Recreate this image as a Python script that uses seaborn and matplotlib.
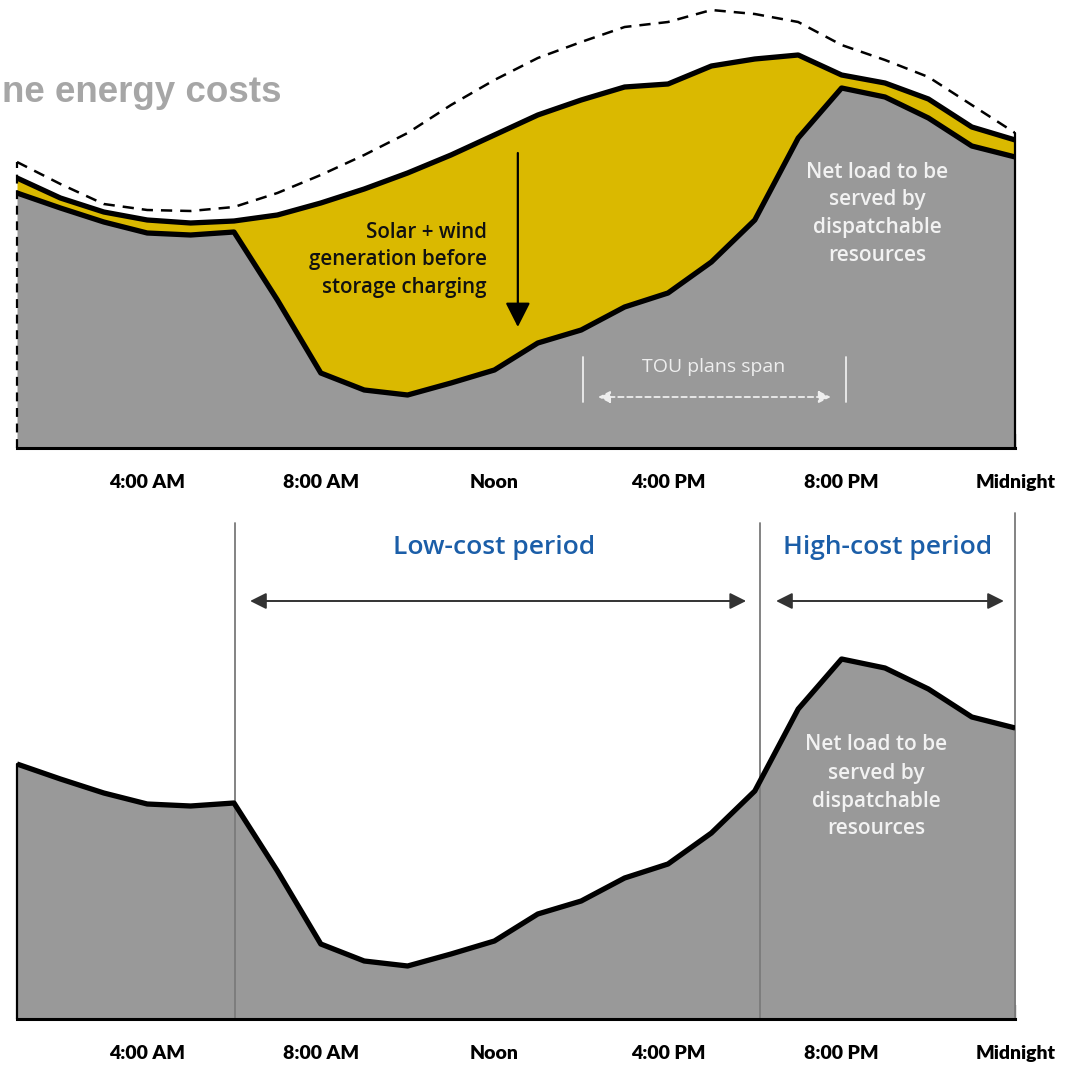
import matplotlib
matplotlib.use("Agg")
import matplotlib.pyplot as plt
import seaborn as sns
import pandas as pd

# Hourly system load (GW), 1 AM through midnight
hours = list(range(1, 25))
net_load = [25.5, 24.0, 22.6, 21.5, 21.3, 21.6, 14.8, 7.5, 5.8, 5.3, 6.5, 7.8,
            10.5, 11.8, 14.1, 15.5, 18.6, 22.8, 31.0, 36.0, 35.1, 33.0, 30.2, 29.1]
gross_load = [27.0, 25.0, 23.6, 22.8, 22.5, 22.7, 23.3, 24.5, 25.9, 27.5, 29.3, 31.3,
              33.3, 34.8, 36.1, 36.4, 38.2, 38.9, 39.3, 37.3, 36.5, 34.9, 32.1, 30.8]
total_demand = [28.6, 26.4, 24.4, 23.8, 23.7, 24.1, 25.5, 27.3, 29.3, 31.5, 34.3, 36.8,
                39.0, 40.6, 42.1, 42.6, 43.8, 43.4, 42.6, 40.3, 38.8, 37.1, 34.3, 31.5]

tick_hours = [4, 8, 12, 16, 20, 24]
tick_labels = ["4:00 AM", "8:00 AM", "Noon", "4:00 PM", "8:00 PM", "Midnight"]

low_cost_span = (6.02, 18.12)
high_cost_span = (18.12, 24.0)
tou_span = (14.05, 20.1)

df = pd.DataFrame({"hour": hours, "net": net_load, "gross": gross_load,
                   "total": total_demand})

sns.set_theme(style="white")
plt.rcParams["font.family"] = ["Lato", "DejaVu Sans"]

GRAY = "#999999"
YELLOW = "#dab900"
BLUE = "#1b5ea8"
OFFWHITE = "#f2f2f2"
NOTE_FONT = dict(family=["Open Sans", "DejaVu Sans"], fontweight="semibold")

fig = plt.figure(figsize=(10.74, 10.71), dpi=100)
W, H = 1074, 1071
x0, x1 = 17, 1015.2
ax_top = fig.add_axes([x0 / W, (H - 448) / H, (x1 - x0) / W, 448 / H])
ax_bot = fig.add_axes([x0 / W, (H - 1019) / H, (x1 - x0) / W, 506 / H])
ax_top.set_ylim(0, 44.8)
ax_bot.set_ylim(0, 50.6)


def style_axis(ax):
    ax.set_xlim(1, 24)
    ax.set_facecolor("none")
    for side in ("top", "left", "right"):
        ax.spines[side].set_visible(False)
    ax.spines["bottom"].set_color("black")
    ax.spines["bottom"].set_linewidth(2.2)
    ax.set_yticks([])
    ax.set_xticks(tick_hours)
    ax.set_xticklabels(tick_labels, fontsize=14, fontweight="heavy", color="black")
    ax.set_xticks(range(2, 24), minor=True)
    ax.tick_params(axis="x", which="both", direction="in", length=10, width=1.6,
                   color="black", bottom=True, pad=19)
    ax.set_xlabel("")
    ax.set_ylabel("")


line_kw = dict(color="black", linewidth=3.8, solid_joinstyle="round",
               solid_capstyle="butt", legend=False)

# ---- Top panel: gross load, renewables and net load ----
ax = ax_top
ax.fill_between(df["hour"], 0, df["net"], color=GRAY, linewidth=0, zorder=1)
ax.fill_between(df["hour"], df["net"], df["gross"], color=YELLOW, linewidth=0, zorder=1)
sns.lineplot(data=df, x="hour", y="total", ax=ax, color="black", linewidth=1.8,
             linestyle=(0, (4.5, 3.2)), legend=False, zorder=3)
sns.lineplot(data=df, x="hour", y="gross", ax=ax, zorder=4, **line_kw)
sns.lineplot(data=df, x="hour", y="net", ax=ax, zorder=4, **line_kw)
ax.plot([1, 1], [0, total_demand[0]], color="black", lw=1.6,
        linestyle=(0, (4, 3)), zorder=5, clip_on=False)
ax.plot([24, 24], [0, total_demand[-1]], color="black", lw=1.6, zorder=5,
        clip_on=False)
style_axis(ax)

for i, line in enumerate(["Solar + wind", "generation before", "storage charging"]):
    ax.text(11.82, 21.6 - 2.75 * i, line, ha="right", va="center", fontsize=14.8,
            color="#111111", **NOTE_FONT)
ax.annotate("", xy=(12.54, 12.1), xytext=(12.54, 29.5),
            arrowprops=dict(arrowstyle="-|>,head_length=0.75,head_width=0.38",
                            mutation_scale=20, color="black", lw=1.6,
                            shrinkA=0, shrinkB=0), zorder=6)

for i, line in enumerate(["Net load to be", "served by", "dispatchable", "resources"]):
    ax.text(20.82, 27.6 - 2.78 * i, line, ha="center", va="center", fontsize=15,
            color=OFFWHITE, zorder=6, **NOTE_FONT)

for xv in tou_span:
    ax.plot([xv, xv], [4.6, 9.1], color="#eeeeee", lw=1.3, zorder=5)
ax.text(17.06, 8.1, "TOU plans span", ha="center", va="center", fontsize=14,
        color="#eeeeee", zorder=6, family=["Open Sans", "DejaVu Sans"],
        fontweight="medium")
ax.annotate("", xy=(19.75, 5.1), xytext=(14.39, 5.1),
            arrowprops=dict(arrowstyle="<|-|>,head_length=0.6,head_width=0.3",
                            mutation_scale=12, color="#eeeeee", lw=1.3,
                            linestyle=(0, (3, 2)), shrinkA=0, shrinkB=0), zorder=6)

# ---- Bottom panel: net load with cost periods ----
ax = ax_bot
ax.fill_between(df["hour"], 0, df["net"], color=GRAY, linewidth=0, zorder=1)
sns.lineplot(data=df, x="hour", y="net", ax=ax, zorder=4, **line_kw)
ax.plot([1, 1], [0, net_load[0]], color="black", lw=1.6, zorder=5, clip_on=False)
style_axis(ax)

for xv, top in ((low_cost_span[0], 49.6), (low_cost_span[1], 49.6), (24.0, 50.6)):
    ax.plot([xv, xv], [0, top], color="#7a7a7a", lw=1.3, zorder=2, clip_on=False)

arrow_kw = dict(arrowstyle="<|-|>,head_length=0.7,head_width=0.35",
                mutation_scale=14, color="#333333", lw=1.4, shrinkA=0, shrinkB=0)
ax.annotate("", xy=(17.8, 41.8), xytext=(6.37, 41.8), arrowprops=arrow_kw)
ax.annotate("", xy=(23.74, 41.8), xytext=(18.49, 41.8), arrowprops=arrow_kw)
ax.text(11.99, 47.2, "Low-cost period", ha="center", va="center", fontsize=19,
        color=BLUE, **NOTE_FONT)
ax.text(21.07, 47.2, "High-cost period", ha="center", va="center", fontsize=19,
        color=BLUE, **NOTE_FONT)

for i, line in enumerate(["Net load to be", "served by", "dispatchable", "resources"]):
    ax.text(20.8, 27.4 - 2.8 * i, line, ha="center", va="center", fontsize=15,
            color=OFFWHITE, zorder=6, **NOTE_FONT)

# Slide heading in the top-left corner
fig.text(2 / W, 1 - 92 / H, "ne energy costs", ha="left", va="center",
         fontsize=26.5, fontweight="bold", color="#a6a6a6",
         family=["Liberation Sans", "DejaVu Sans"])

fig.savefig("out.png", dpi=100)
